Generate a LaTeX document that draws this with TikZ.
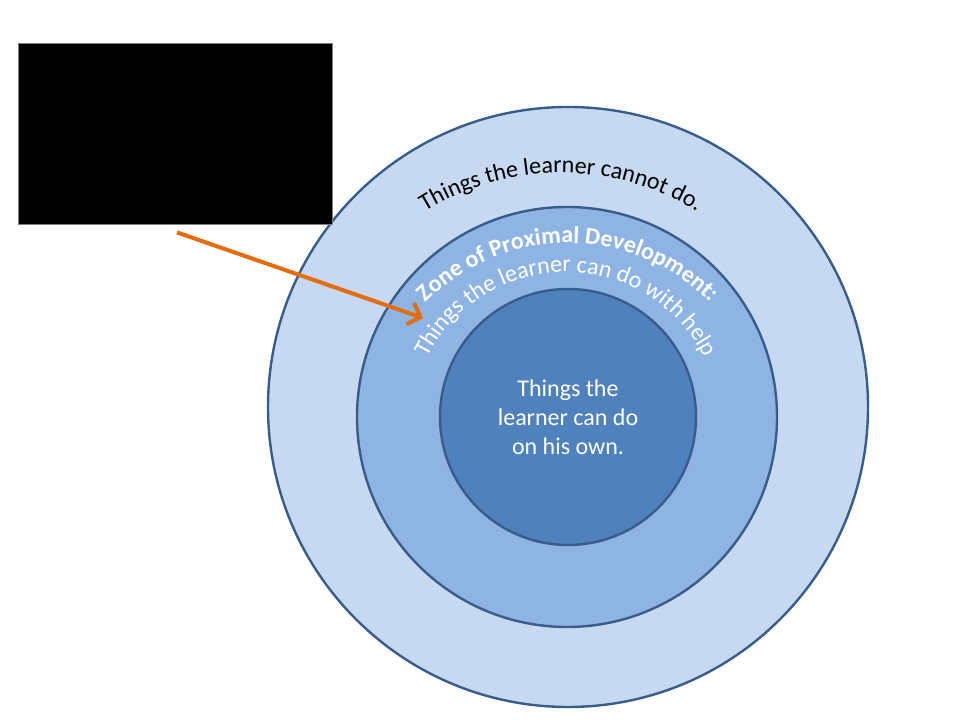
\documentclass[tikz,border=0pt]{standalone}
\usepackage{fontspec}
\setmainfont{Carlito}
\usetikzlibrary{arrows.meta,decorations.text}

\definecolor{ringouter}{RGB}{198,217,241}
\definecolor{ringmid}{RGB}{142,180,227}
\definecolor{ringinner}{RGB}{79,129,189}
\definecolor{ringline}{RGB}{56,93,138}
\definecolor{pointer}{RGB}{228,108,10}

\newcommand{\slidefont}{\fontsize{18}{21.75}\selectfont}

\tikzset{
    ring/.style={draw=ringline, line width=1.8pt, circle, inner sep=0pt},
    curved/.style={decorate, decoration={text along path, text align=center, #1}}
}

\begin{document}
\begin{tikzpicture}[x=0.75pt, y=0.75pt]
    \useasboundingbox (0,0) rectangle (960,720);

    % Outer ring
    \node[ring, fill=ringouter, minimum size=450pt] (outer_circ) at (568,313){};

    % Middle ring
    \node[ring, fill=ringmid, minimum size=315pt] (mid_circ) at (567,303){};

    % Inner ring
    \node[ring, fill=ringinner, minimum size=192pt] (inner_circ) at (568,303){};

    % Hidden box
    \node[draw=gray, fill=black, line width=0.6pt,
        minimum width=235.5pt,
        minimum height=135.75pt] (box) at (175,586.5){};

    % Curved labels
    \path[curved={text color=black, text={|\slidefont|Things the learner cannot do.}}]
        (561,287) ++(160:260) arc[start angle=160, end angle=20, radius=260];
    \path[curved={text color=white, text={|\slidefont\bfseries|Zone of Proximal Development:}}]
        (568,278) ++(170:199) arc[start angle=170, end angle=10, radius=199];
    \path[curved={text color=white, text={|\slidefont|Things the learner can do with help}}]
        (566,293) ++(178:155) arc[start angle=178, end angle=2, radius=155];

    \node[text=white, align=center, font=\slidefont] (own_lbl) at (inner_circ) {Things the\\learner can do\\on his own.};

    % Arrow
    \coordinate (zpd_tip) at (423,402);
    \draw[pointer, line width=3pt, -{Straight Barb[length=8pt,width=17pt]}]
        ([xshift=1.5pt,yshift=-6pt]box.south) -- (zpd_tip);

\end{tikzpicture}
\end{document}
